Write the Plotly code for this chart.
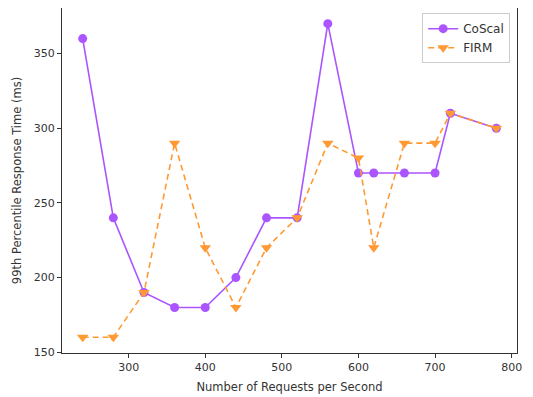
import plotly.graph_objects as go

rps = [240, 280, 320, 360, 400, 440, 480, 520, 560, 600, 620, 660, 700, 720, 780]
coscal = [360, 240, 190, 180, 180, 200, 240, 240, 370, 270, 270, 270, 270, 310, 300]
firm = [160, 160, 190, 290, 220, 180, 220, 240, 290, 280, 220, 290, 290, 310, 300]

x_ticks = [300, 400, 500, 600, 700, 800]
y_ticks = [150, 200, 250, 300, 350]

PURPLE = "#AA55FF"
ORANGE = "#FF9933"

fig = go.Figure()
fig.add_trace(go.Scatter(
    x=rps, y=coscal, name="CoScal", mode="lines+markers",
    line=dict(color=PURPLE, width=1.6),
    marker=dict(symbol="circle", size=9, color=PURPLE),
))
fig.add_trace(go.Scatter(
    x=rps, y=firm, name="FIRM", mode="lines+markers",
    line=dict(color=ORANGE, width=1.6, dash="6px,4px"),
    marker=dict(symbol="triangle-down", size=10, color=ORANGE),
))

axis_common = dict(
    showline=True, linecolor="#333333", linewidth=1, mirror=True,
    ticks="outside", ticklen=4, tickcolor="#333333", showgrid=False, zeroline=False,
    tickfont=dict(family="DejaVu Sans", size=11, color="#333333"),
    automargin=False,
)

fig.update_layout(
    width=525, height=389,
    margin=dict(l=54, r=16, t=0, b=44),
    paper_bgcolor="white", plot_bgcolor="white",
    font=dict(family="DejaVu Sans", size=11, color="#333333"),
    xaxis=dict(range=[213, 807], tickvals=x_ticks,
               title=dict(text="Number of Requests per Second", standoff=9,
                          font=dict(size=11.5)),
               **axis_common),
    yaxis=dict(range=[149.5, 380.5], tickvals=y_ticks,
               title=dict(text="99th Percentile Response Time (ms)", standoff=9,
                          font=dict(size=11.5)),
               **axis_common),
    legend=dict(x=0.985, y=0.985, xanchor="right", yanchor="top",
                bgcolor="rgba(255,255,255,0.8)", bordercolor="#cccccc", borderwidth=1,
                font=dict(size=12, color="#333333"), tracegroupgap=2),
    showlegend=True,
)

fig.write_html("out.html")
